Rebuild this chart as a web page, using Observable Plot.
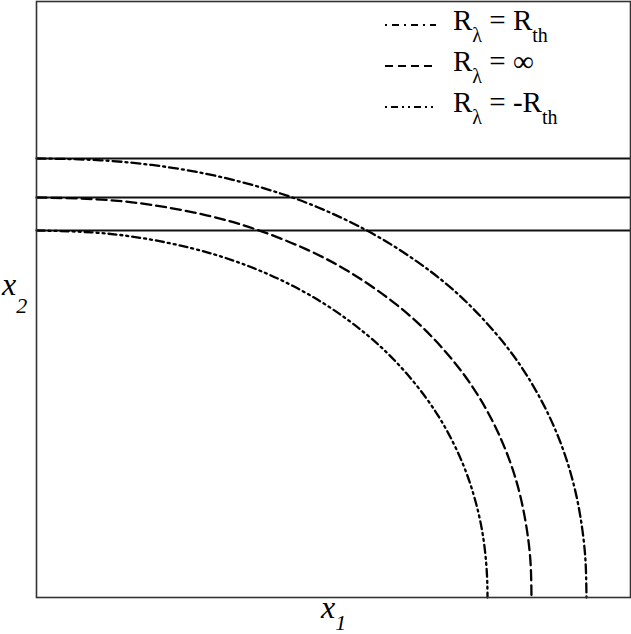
<!DOCTYPE html>
<html>
<head>
<meta charset="utf-8">
<script src="https://cdn.jsdelivr.net/npm/d3@7"></script>
<script src="https://cdn.jsdelivr.net/npm/@observablehq/plot@0.6"></script>
<style>
  html, body { margin: 0; padding: 0; background: #fff; }
  #wrap { position: relative; width: 631px; height: 634px; }
  #wrap svg { position: absolute; left: 0; top: 0; }
</style>
</head>
<body>
<div id="wrap"></div>
<script>
// Curve for R_lambda = R_th (outer, dash-dot)
const rthX = [0, 10.77, 20.88, 30.98, 41.08, 49.49, 57.91, 66.33, 73.06, 78.96, 83.16, 86.53, 89.23, 91.08, 92.09, 92.48, 92.59];
const rthY = [73.66, 73.36, 72.38, 70.57, 67.79, 64.55, 60.30, 54.72, 48.91, 42.33, 36.28, 29.97, 23.14, 16.17, 9.85, 5.03, 0];
// Curve for R_lambda = infinity (middle, dashed)
const infX = [0, 10.10, 19.36, 28.62, 37.04, 45.45, 53.03, 60.61, 66.50, 71.55, 75.76, 79.12, 81.48, 82.83, 83.25, 83.33];
const infY = [67.11, 66.81, 65.87, 64.13, 61.73, 58.41, 54.40, 49.14, 43.81, 37.94, 31.49, 24.38, 16.91, 9.41, 4.18, 0];
// Curve for R_lambda = -R_th (inner, dash-dot-dot)
const negX = [0, 9.26, 17.68, 26.09, 33.67, 41.25, 48.82, 55.56, 60.94, 65.66, 69.36, 72.39, 74.41, 75.42, 75.84, 75.93];
const negY = [61.58, 61.26, 60.32, 58.61, 56.34, 53.22, 49.04, 44.14, 39.09, 33.39, 27.50, 20.86, 14.16, 8.52, 3.71, 0];
// Horizontal levels
const levels = [73.66, 67.11, 61.58];

const seriesNames = ["R_th", "inf", "-R_th"];
const dashes = {"R_th": "9,4,2,4", "inf": "10,5", "-R_th": "8,4,2,4,2,4"};

const toRows = (xs, ys) => xs.map((x, i) => ({x1: x, x2: ys[i]}));
const rows = {"R_th": toRows(rthX, rthY), "inf": toRows(infX, infY), "-R_th": toRows(negX, negY)};

const plot = Plot.plot({
  width: 631,
  height: 634,
  marginLeft: 36,
  marginRight: 1,
  marginTop: 1,
  marginBottom: 37,
  x: {domain: [0, 100], axis: null},
  y: {domain: [0, 100], axis: null},
  style: {background: "#fff"},
  marks: [
    Plot.ruleY(levels, {stroke: "#111", strokeWidth: 1.9}),
    ...seriesNames.map(s => Plot.line(rows[s], {
      x: "x1", y: "x2", curve: "natural",
      stroke: "#000", strokeWidth: 2.3, strokeDasharray: dashes[s]
    })),
    Plot.frame({stroke: "#333", strokeWidth: 1.6})
  ]
});
document.getElementById("wrap").appendChild(plot);

const serif = "'Liberation Serif', 'DejaVu Serif', 'Noto Serif', Times, serif";
const svg = d3.select("#wrap").append("svg")
  .attr("class", "overlay")
  .attr("width", 631).attr("height", 634)
  .style("pointer-events", "none");

const legendItems = [
  {key: "R_th", main2: "R", sub2: "th"},
  {key: "inf", main2: "\u221E", sub2: ""},
  {key: "-R_th", main2: "-R", sub2: "th"}
];
const legendDash = {"R_th": "2,5,7,5", "inf": "8,5", "-R_th": "2,4,7,4,2,4"};
legendItems.forEach((it, i) => {
  const base = 30 + i * 41;
  svg.append("line")
    .attr("x1", 385).attr("x2", 436)
    .attr("y1", base - 5).attr("y2", base - 5)
    .attr("stroke", "#000").attr("stroke-width", 2.2)
    .attr("stroke-dasharray", legendDash[it.key]);
  const t = svg.append("text").attr("x", 453).attr("y", base)
    .style("font-family", serif)
    .attr("font-size", 29).attr("fill", "#000");
  t.append("tspan").text("R");
  t.append("tspan").attr("font-size", 20).attr("dy", 12).text("\u03BB");
  t.append("tspan").attr("dy", -12).text(" = " + it.main2);
  if (it.sub2) t.append("tspan").attr("font-size", 20).attr("dy", 12).text(it.sub2);
});

// y-axis label x_2
const ly = svg.append("text").attr("x", 2).attr("y", 295)
  .style("font-family", serif)
  .attr("font-size", 32).attr("font-style", "italic").attr("fill", "#000");
ly.append("tspan").text("x");
ly.append("tspan").attr("font-size", 22).attr("dy", 18).text("2");

// x-axis label x_1
const lx = svg.append("text").attr("x", 321).attr("y", 618)
  .style("font-family", serif)
  .attr("font-size", 32).attr("font-style", "italic").attr("fill", "#000");
lx.append("tspan").text("x");
lx.append("tspan").attr("font-size", 22).attr("dy", 12).text("1");
</script>
</body>
</html>
